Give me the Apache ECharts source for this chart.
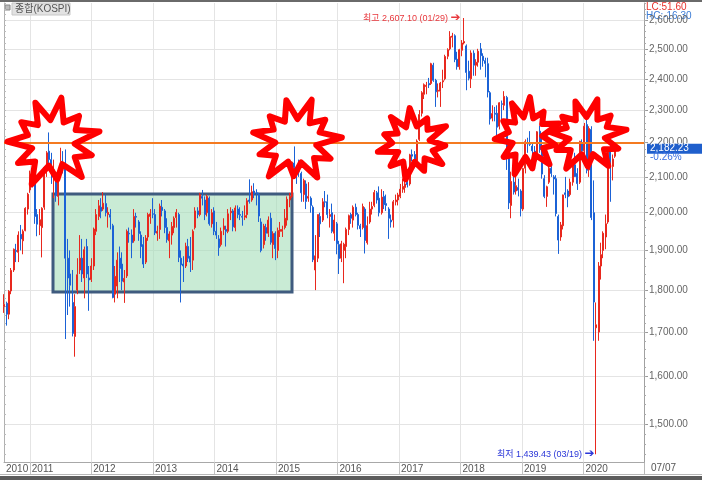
<!DOCTYPE html>
<html>
<head>
<meta charset="utf-8">
<title>종합(KOSPI)</title>
<script src="https://cdn.jsdelivr.net/npm/echarts@6.0.0/dist/echarts.min.js"></script>
<style>
html, body { margin: 0; padding: 0; background: #fff; }
#chart { width: 702px; height: 480px; }
</style>
</head>
<body>
<div id="chart"></div>
<script>
// 2주 단위 캔들 [시가, 종가, 저가, 고가] - 2010-08-02부터 14일 간격
const k2010 = [
  [1760,1765,1745,1790],[1768,1742,1715,1772],[1742,1797,1730,1800],[1798,1849,1790,1855],
  [1850,1903,1845,1905],[1900,1897,1870,1917],[1895,1940,1870,1950],[1942,1930,1900,1967],
  [1925,1950,1890,1955],[1952,2012,1950,2015],[2010,2051,1995,2055]
];
const k2011 = [
  [2063,2108,2055,2118],[2108,2107,2070,2119],[2085,1990,1970,2090],[1995,1969,1937,2010],
  [1965,1981,1940,2010],[1960,2012,1882,2015],[2015,2127,2008,2130],[2125,2170,2100,2175],
  [2175,2150,2140,2231],[2150,2118,2080,2170],[2100,2120,2040,2150],[2110,2047,2030,2112],
  [2045,2114,2020,2115],[2120,2145,2115,2185],[2140,2133,2110,2175],[2130,1880,1684,2180],
  [1880,1830,1740,1930],[1840,1812,1760,1900],[1770,1697,1690,1850],[1690,1760,1644,1790],
  [1800,1838,1790,1880],[1850,1880,1840,1940],[1880,1840,1820,1930],[1830,1902,1780,1910],
  [1910,1840,1830,1930],[1830,1825,1750,1860]
];
const k2012 = [
  [1826,1860,1820,1880],[1860,1956,1850,1960],[1950,1995,1940,2010],[1990,2019,1980,2035],
  [2015,2004,1985,2040],[2010,2026,2005,2057],[2025,2000,1990,2050],[1995,2001,1960,2015],
  [1995,1988,1955,2010],[1965,1782,1780,1970],[1790,1834,1770,1860],[1810,1875,1780,1895],
  [1880,1854,1820,1910],[1865,1822,1800,1895],[1820,1829,1769,1850],[1835,1950,1830,1955],
  [1945,1943,1920,1960],[1940,1920,1880,1955],[1925,1990,1920,2010],[1990,1988,1960,2000],
  [1975,1944,1925,1980],[1940,1910,1880,1950],[1915,1865,1855,1935],[1870,1932,1865,1940],
  [1935,1995,1925,2000],[1990,1997,1970,2010],[1997,1996,1985,2040]
];
const k2013 = [
  [1995,1946,1940,2010],[1945,1950,1925,1965],[1955,2018,1930,2025],[2015,2006,1990,2035],
  [2005,1960,1945,2010],[1960,1928,1920,1985],[1925,1943,1880,1950],[1940,1963,1915,1975],
  [1960,1985,1945,1990],[1987,2001,1960,2010],[1995,1882,1870,2000],[1880,1863,1770,1900],
  [1865,1860,1820,1885],[1860,1911,1855,1920],[1910,1880,1870,1930],[1885,1870,1845,1935],
  [1875,1950,1850,1955],[1960,2005,1955,2015],[2005,1995,1985,2015],[1995,2050,1990,2055],
  [2045,2040,2020,2063],[2035,1995,1980,2045],[2000,2045,1990,2050],[2040,1970,1965,2045],
  [1970,2000,1960,2010],[2005,1950,1940,2015]
];
const k2014 = [
  [1950,1940,1930,1975],[1930,1907,1886,1940],[1915,1950,1910,1960],[1955,1964,1940,1985],
  [1955,1950,1910,1965],[1950,1997,1945,2010],[2000,2004,1980,2015],[2005,1962,1950,2010],
  [1960,2013,1950,2020],[2010,1995,1985,2020],[1995,1993,1980,2015],[1990,1988,1965,2005],
  [1988,1992,1980,2020],[1995,2033,1985,2040],[2035,2031,2025,2093],[2035,2058,2030,2075],
  [2060,2052,2040,2082],[2055,2053,2020,2065],[2050,1991,1975,2055],[1975,1900,1895,1985],
  [1915,1964,1905,1970],[1960,1945,1925,1970],[1945,1980,1935,1990],[1985,1921,1915,2000],
  [1915,1944,1880,1950],[1945,1905,1875,1950]
];
const k2015 = [
  [1900,1952,1880,1960],[1950,1955,1935,1975],[1950,1955,1935,1965],[1960,1985,1955,2010],
  [1980,2037,1965,2045],[2035,2045,2015,2055],[2045,2143,2040,2145],[2140,2127,2120,2189],
  [2120,2110,2080,2130],[2115,2114,2100,2150],[2110,2055,2030,2115],[2050,2090,2030,2095],
  [2080,2031,2010,2090],[2040,2045,2030,2085],[2040,2020,2000,2045],[2015,1876,1870,2020],
  [1850,1886,1800,1940],[1880,1995,1870,1995],[1990,1970,1935,2000],[1980,2030,1975,2040],
  [2030,2029,2015,2060],[2030,1995,1985,2050],[1990,1995,1960,2010],[2000,1950,1945,2025],
  [1945,1980,1925,1995],[1970,1917,1890,1975]
];
const k2016 = [
  [1915,1879,1840,1925],[1880,1917,1870,1925],[1900,1916,1817,1920],[1910,1955,1880,1960],
  [1955,1992,1940,1995],[1995,1985,1970,2000],[1980,2015,1960,2020],[2015,1995,1990,2025],
  [1995,1966,1955,2000],[1965,1957,1935,1970],[1960,2017,1955,2025],[2010,1926,1892,2015],
  [1920,1965,1915,1990],[1975,2010,1970,2030],[2010,2017,1995,2030],[2020,2056,2015,2063],
  [2055,2035,2025,2060],[2040,2000,1990,2073],[2000,2043,1995,2065],[2045,2022,2010,2060],
  [2025,2020,2005,2050],[2010,1985,1930,2015],[1980,1975,1960,1995],[1980,2030,1960,2035],
  [2030,2035,2020,2050],[2035,2049,2020,2055]
];
const k2017 = [
  [2045,2065,2040,2080],[2065,2073,2055,2095],[2070,2080,2055,2095],[2085,2078,2070,2105],
  [2080,2164,2075,2167],[2165,2160,2145,2180],[2165,2134,2125,2175],[2135,2205,2130,2210],
  [2210,2286,2205,2300],[2290,2355,2280,2360],[2350,2381,2335,2385],[2375,2379,2350,2390],
  [2385,2380,2370,2403],[2385,2450,2380,2453],[2445,2395,2390,2453],[2395,2358,2310,2400],
  [2360,2363,2340,2385],[2360,2386,2310,2390],[2390,2394,2370,2430],[2400,2474,2395,2480],
  [2475,2497,2465,2502],[2500,2542,2495,2561],[2540,2544,2505,2555],[2545,2464,2455,2550],
  [2465,2440,2430,2490],[2440,2497,2430,2500]
];
const k2018 = [
  [2495,2520,2475,2530],[2520,2525,2515,2607.10],[2510,2421,2363,2515],[2425,2402,2395,2460],
  [2400,2486,2370,2495],[2485,2445,2410,2495],[2445,2455,2410,2465],[2455,2492,2440,2500],
  [2500,2477,2430,2520],[2475,2460,2440,2485],[2460,2451,2405,2470],[2450,2357,2340,2470],
  [2355,2272,2255,2360],[2275,2289,2265,2315],[2290,2287,2265,2310],[2290,2247,2215,2315],
  [2250,2323,2240,2325],[2320,2318,2270,2330],[2315,2343,2300,2360],[2340,2161,2120,2345],
  [2160,2027,2010,2175],[2020,2087,1985,2115],[2085,2057,2050,2110],[2060,2075,2050,2135],
  [2070,2062,2045,2095],[2060,2011,1990,2065]
];
const k2019 = [
  [2010,2124,2005,2125],[2125,2203,2110,2210],[2200,2196,2170,2215],[2200,2195,2190,2235],
  [2190,2176,2135,2200],[2175,2140,2120,2190],[2150,2233,2145,2235],[2235,2179,2170,2252],
  [2180,2108,2095,2220],[2095,2045,2040,2105],[2045,2072,2016,2075],[2085,2125,2080,2130],
  [2125,2110,2100,2140],[2100,2094,2050,2105],[2095,1998,1990,2105],[1990,1927,1891,1995],
  [1935,1967,1925,1975],[1965,2049,1955,2050],[2055,2050,2040,2100],[2060,2044,2015,2065],
  [2050,2085,2045,2095],[2085,2137,2075,2150],[2135,2101,2100,2170],[2110,2081,2063,2125],
  [2085,2204,2080,2206],[2200,2176,2165,2210]
];
const k2020 = [
  [2176,2250,2150,2260],[2255,2119,2110,2277],[2120,2243,2100,2250],[2240,1987,1980,2250],
  [2000,1771,1680,2090],[1710,1717,1439.43,1770],[1700,1860,1680,1870],[1860,1889,1826,1920],
  [1900,1945,1880,1950],[1935,1970,1903,1995],[1975,2181,1970,2186],[2185,2141,2030,2200],
  [2130,2152,2090,2165],[2160,2182.23,2155,2190]
];

const yTicks = [1500, 1600, 1700, 1800, 1900, 2000, 2100, 2200, 2300, 2400, 2500, 2600];
const years = [2011, 2012, 2013, 2014, 2015, 2016, 2017, 2018, 2019, 2020];
const highVal = 2607.10, lowVal = 1439.43, lastClose = 2182.23, refLevel = 2200;

const candles = [].concat(k2010, k2011, k2012, k2013, k2014, k2015, k2016, k2017, k2018, k2019, k2020);
const dates = candles.map((c, i) => new Date(2010, 7, 2 + 14 * i).getTime());
const highIdx = candles.findIndex(c => c[3] === highVal);
const lowIdx = candles.findIndex(c => c[2] === lowVal);

// 로그 눈금
const lg = v => Math.log10(v);
const minor = [];
for (let v = 1440; v <= 2660; v += 20) minor.push(lg(v));

const xMin = new Date(2010, 7, 1).getTime();
const xMax = new Date(2020, 11, 25).getTime();
const yearTicks = years.map(y => new Date(y, 0, 1).getTime());

const FONT = '"Liberation Sans", "Noto Sans CJK KR", sans-serif';
const UP = '#e8281e', DOWN = '#1b62d6';

var chart = echarts.init(document.getElementById('chart'));
var option = {
  animation: false,
  textStyle: { fontFamily: FONT },
  grid: { left: 4, right: 58, top: 3, bottom: 18 },
  xAxis: {
    type: 'value', min: xMin, max: xMax,
    axisLine: { lineStyle: { color: '#a8a8a8' } },
    axisTick: { customValues: yearTicks, length: 12, lineStyle: { color: '#c4c4c4' } },
    axisLabel: {
      customValues: [xMin].concat(yearTicks),
      formatter: v => String(new Date(v).getFullYear()),
      align: 'left', padding: [0, 0, 0, 2], margin: 2,
      color: '#555', fontSize: 10, fontFamily: FONT
    },
    splitLine: { show: true, lineStyle: { color: '#e4e4e4' } }
  },
  yAxis: [
    {
      type: 'value', position: 'right', min: lg(1424.4), max: lg(2661),
      axisLine: { show: true, lineStyle: { color: '#a0a0a0' } },
      axisTick: { customValues: yTicks.map(lg), length: 4, lineStyle: { color: '#999' } },
      axisLabel: {
        customValues: yTicks.map(lg), margin: 5,
        formatter: v => Math.round(Math.pow(10, v)).toLocaleString('en-US', { minimumFractionDigits: 2 }),
        color: '#666', fontSize: 10, fontFamily: FONT
      },
      splitLine: { show: true, lineStyle: { color: '#e4e4e4' } }
    },
    {
      type: 'value', position: 'right', min: lg(1424.4), max: lg(2661),
      axisLine: { show: false },
      axisTick: { customValues: minor, length: 2, lineStyle: { color: '#aaa' } },
      axisLabel: { show: false }, splitLine: { show: false }
    },
    {
      type: 'value', position: 'left', min: lg(1424.4), max: lg(2661),
      axisLine: { show: true, lineStyle: { color: '#b0b0b0' } },
      axisTick: { customValues: minor, length: 2, inside: true, lineStyle: { color: '#bbb' } },
      axisLabel: { show: false }, splitLine: { show: false }
    }
  ],
  series: [{
    type: 'candlestick',
    yAxisIndex: 0,
    barWidth: 1.5,
    data: candles.map((c, i) => [dates[i], lg(c[0]), lg(c[1]), lg(c[2]), lg(c[3])]),
    itemStyle: { color: UP, color0: DOWN, borderColor: UP, borderColor0: DOWN, borderWidth: 1 },
    markLine: {
      silent: true, symbol: 'none', precision: 10, label: { show: false },
      lineStyle: { color: '#f47a20', width: 2, type: 'solid' },
      data: [{ yAxis: lg(refLevel) }]
    },
    markPoint: {
      symbol: 'circle', symbolSize: 1, itemStyle: { color: 'rgba(0,0,0,0)' },
      data: [
        {
          coord: [dates[highIdx], lg(highVal)],
          label: {
            formatter: '최고 2,607.10 (01/29) {a|➔}', position: 'left', distance: 3,
            color: '#e8383d', fontSize: 9, fontFamily: FONT,
            rich: { a: { fontSize: 12, color: '#e8383d', fontFamily: 'DejaVu Sans' } }
          }
        },
        {
          coord: [dates[lowIdx], lg(lowVal)],
          label: {
            formatter: '최저 1,439.43 (03/19) {a|➔}', position: 'left', distance: 1,
            color: '#2a36d8', fontSize: 9, fontFamily: FONT,
            rich: { a: { fontSize: 12, color: '#2a36d8', fontFamily: 'DejaVu Sans' } }
          }
        }
      ]
    }
  }]
};
chart.setOption(option);

// 별표 모양 (손그림 주석)
const burst = [1.0,0.5,0.8,0.55,1.0,0.45,0.85,0.55,0.95,0.5,0.8,0.5,1.0,0.55,0.85,0.45,0.95,0.55,0.8,0.5,0.95,0.5];
function star(cx, cy, rx, ry, rot) {
  const pts = burst.map((r, i) => {
    const a = (rot + i * 360 / burst.length) * Math.PI / 180;
    return [cx + Math.cos(a) * rx * r, cy + Math.sin(a) * ry * r];
  });
  return {
    type: 'polygon', z: 100, silent: true,
    shape: { points: pts },
    style: { fill: 'none', stroke: '#ff0000', lineWidth: 6, lineJoin: 'round' }
  };
}

const py = chart.convertToPixel({ yAxisIndex: 0 }, lg(lastClose));
chart.setOption({
  graphic: [
    { type: 'rect', z: 1, silent: true, shape: { x: 53, y: 194, width: 239, height: 98 },
      style: { fill: 'rgba(165,222,185,0.6)', stroke: '#3f5b7f', lineWidth: 3 } },
    star(53, 143, 48, 46, -80),
    star(296, 141, 46, 44, -70),
    star(413, 144, 38, 36, -95),
    star(527, 137, 34, 40, -85),
    star(587, 136, 40, 38, -75),
    // 상단/하단 테두리
    { type: 'rect', shape: { x: 0, y: 0, width: 702, height: 2 }, style: { fill: '#6a6a6a' } },
    { type: 'line', shape: { x1: 0, y1: 474.5, x2: 702, y2: 474.5 }, style: { stroke: '#b8b8b8', lineWidth: 1 } },
    { type: 'rect', shape: { x: 0, y: 476, width: 702, height: 4 }, style: { fill: '#5c5c5c' } },
    { type: 'line', shape: { x1: 644.5, y1: 462, x2: 644.5, y2: 475 }, style: { stroke: '#b8b8b8', lineWidth: 1 } },
    { type: 'text', x: 651, y: 463, style: { text: '07/07', fill: '#555', font: '10px ' + FONT } },
    // 제목
    { type: 'rect', shape: { x: 5, y: 5, width: 5, height: 5 }, style: { fill: '#bbb', stroke: '#888', lineWidth: 1 } },
    { type: 'rect', shape: { x: 12, y: 3, width: 58, height: 12 }, style: { fill: '#e2e2e2', stroke: '#c8c8c8', lineWidth: 1 } },
    { type: 'text', x: 15, y: 4, style: { text: '종합(KOSPI)', fill: '#555', font: '10px ' + FONT } },
    { type: 'text', x: 646, y: 2, style: { text: 'LC:51.60', fill: '#e8322d', font: '10px ' + FONT } },
    { type: 'text', x: 646, y: 11, style: { text: 'HC:-16.30', fill: '#3a7bd5', font: '10px ' + FONT } },
    // 현재가
    { type: 'rect', z: 100, shape: { x: 647, y: py - 5, width: 55, height: 10 }, style: { fill: '#1f5fcc' } },
    { type: 'text', z: 101, x: 650, y: py - 5, style: { text: '2,182.23', fill: '#fff', font: '10px ' + FONT } },
    { type: 'text', z: 101, x: 650, y: py + 4, style: { text: '-0.26%', fill: '#3a6fe0', font: '10px ' + FONT } }
  ]
});
</script>
</body>
</html>
